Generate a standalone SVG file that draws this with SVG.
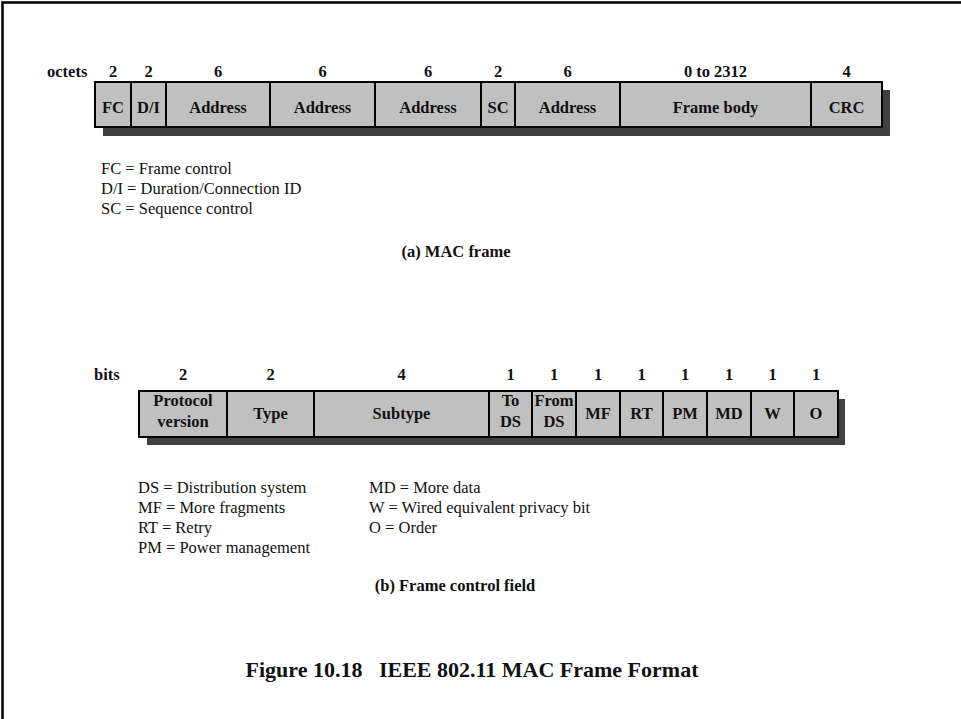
<svg xmlns="http://www.w3.org/2000/svg" width="961" height="719" viewBox="0 0 961 719">
<style>
.cell{fill:#c0c0c0;stroke:#000;stroke-width:2}
.shadow{fill:#404040}
.b{font-family:"Liberation Serif","Times New Roman",serif;font-weight:bold;font-size:16.5px;fill:#111}
.c{text-anchor:middle}
.r{font-family:"Liberation Serif","Times New Roman",serif;font-size:16.5px;fill:#111}
.cap{font-family:"Liberation Serif","Times New Roman",serif;font-weight:bold;font-size:22px;fill:#111;text-anchor:middle}
</style>
<rect x="0" y="0" width="961" height="719" fill="#fff"/>
<rect x="2.5" y="2.5" width="1100" height="1100" fill="none" stroke="#000" stroke-width="2.5"/>

<g id="mac-frame">
<rect class="shadow" x="103" y="90" width="787" height="46"/>
<text class="b" x="47" y="77">octets</text>
<g id="fc"><rect class="cell" x="95" y="82" width="36" height="45"/><text class="b c" x="113" y="77">2</text><text class="b c" x="113" y="113">FC</text></g>
<g id="di"><rect class="cell" x="131" y="82" width="35" height="45"/><text class="b c" x="148.5" y="77">2</text><text class="b c" x="148.5" y="113">D/I</text></g>
<g id="addr1"><rect class="cell" x="166" y="82" width="104" height="45"/><text class="b c" x="218" y="77">6</text><text class="b c" x="218" y="113">Address</text></g>
<g id="addr2"><rect class="cell" x="270" y="82" width="105" height="45"/><text class="b c" x="322.5" y="77">6</text><text class="b c" x="322.5" y="113">Address</text></g>
<g id="addr3"><rect class="cell" x="375" y="82" width="106" height="45"/><text class="b c" x="428" y="77">6</text><text class="b c" x="428" y="113">Address</text></g>
<g id="sc"><rect class="cell" x="481" y="82" width="34" height="45"/><text class="b c" x="498" y="77">2</text><text class="b c" x="498" y="113">SC</text></g>
<g id="addr4"><rect class="cell" x="515" y="82" width="105" height="45"/><text class="b c" x="567.5" y="77">6</text><text class="b c" x="567.5" y="113">Address</text></g>
<g id="body"><rect class="cell" x="620" y="82" width="191" height="45"/><text class="b c" x="715.5" y="77">0 to 2312</text><text class="b c" x="715.5" y="113">Frame body</text></g>
<g id="crc"><rect class="cell" x="811" y="82" width="71" height="45"/><text class="b c" x="846.5" y="77">4</text><text class="b c" x="846.5" y="113">CRC</text></g>
</g>

<g id="legend-a">
<text class="r" x="101" y="174">FC = Frame control</text>
<text class="r" x="101" y="194">D/I = Duration/Connection ID</text>
<text class="r" x="101" y="214">SC = Sequence control</text>
</g>
<text class="b c" x="456" y="257">(a) MAC frame</text>

<g id="frame-control">
<rect class="shadow" x="147" y="399" width="698" height="46"/>
<text class="b" x="94" y="380">bits</text>
<g id="pv"><rect class="cell" x="139" y="391" width="88" height="46"/><text class="b c" x="183" y="380">2</text><text class="b c" x="183" y="406">Protocol</text><text class="b c" x="183" y="427">version</text></g>
<g id="type"><rect class="cell" x="227" y="391" width="87" height="46"/><text class="b c" x="270.5" y="380">2</text><text class="b c" x="270.5" y="419">Type</text></g>
<g id="subtype"><rect class="cell" x="314" y="391" width="175" height="46"/><text class="b c" x="401.5" y="380">4</text><text class="b c" x="401.5" y="419">Subtype</text></g>
<g id="tods"><rect class="cell" x="489" y="391" width="43" height="46"/><text class="b c" x="510.5" y="380">1</text><text class="b c" x="510.5" y="406">To</text><text class="b c" x="510.5" y="427">DS</text></g>
<g id="fromds"><rect class="cell" x="532" y="391" width="44" height="46"/><text class="b c" x="554" y="380">1</text><text class="b c" x="554" y="406">From</text><text class="b c" x="554" y="427">DS</text></g>
<g id="mf"><rect class="cell" x="576" y="391" width="44" height="46"/><text class="b c" x="598" y="380">1</text><text class="b c" x="598" y="419">MF</text></g>
<g id="rt"><rect class="cell" x="620" y="391" width="43" height="46"/><text class="b c" x="641.5" y="380">1</text><text class="b c" x="641.5" y="419">RT</text></g>
<g id="pm"><rect class="cell" x="663" y="391" width="44" height="46"/><text class="b c" x="685" y="380">1</text><text class="b c" x="685" y="419">PM</text></g>
<g id="md"><rect class="cell" x="707" y="391" width="44" height="46"/><text class="b c" x="729" y="380">1</text><text class="b c" x="729" y="419">MD</text></g>
<g id="w"><rect class="cell" x="751" y="391" width="43" height="46"/><text class="b c" x="772.5" y="380">1</text><text class="b c" x="772.5" y="419">W</text></g>
<g id="o"><rect class="cell" x="794" y="391" width="44" height="46"/><text class="b c" x="816" y="380">1</text><text class="b c" x="816" y="419">O</text></g>
</g>

<g id="legend-b">
<text class="r" x="138" y="493">DS = Distribution system</text>
<text class="r" x="138" y="513">MF = More fragments</text>
<text class="r" x="138" y="533">RT = Retry</text>
<text class="r" x="138" y="553">PM = Power management</text>
<text class="r" x="369" y="493">MD = More data</text>
<text class="r" x="369" y="513">W = Wired equivalent privacy bit</text>
<text class="r" x="369" y="533">O = Order</text>
</g>
<text class="b c" x="455" y="591">(b) Frame control field</text>

<text class="cap" x="472" y="677" xml:space="preserve">Figure 10.18   IEEE 802.11 MAC Frame Format</text>
</svg>
